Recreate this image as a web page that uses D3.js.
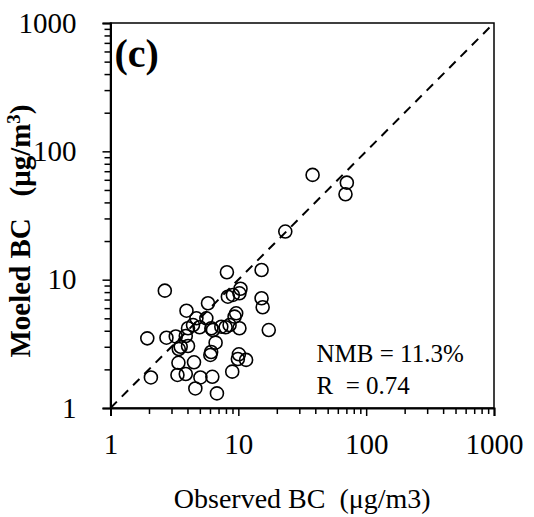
<!DOCTYPE html>
<html>
<head>
<meta charset="utf-8">
<script src="https://cdn.jsdelivr.net/npm/d3@7"></script>
<style>
    body { margin: 0; background: #fff; }
    svg text { font-family: "Liberation Serif", "Times New Roman", serif; fill: #000; }
</style>
</head>
<body>
<div id="chart"></div>
<script>
// observed vs modeled BC (ug/m3)
const observedBC = [2.66, 8.14, 15.2, 8.28, 9.06, 10.2, 10.4, 15.2, 15.5, 17.3,
    5.79, 3.93, 4.70, 5.62, 9.34, 9.62, 4.04, 4.98, 6.15, 7.36,
    8.54, 10.2, 7.95, 6.33, 4.42, 3.24, 2.74, 1.94, 3.88, 3.54,
    4.04, 3.42, 6.64, 6.04, 6.13, 10.1, 9.92, 11.5, 3.40, 4.50,
    3.34, 3.88, 5.05, 6.26, 8.96, 2.07, 4.61, 6.80, 38.1, 70.6,
    68.9, 23.3];
const modeledBC = [8.21, 11.42, 11.9, 7.37, 7.60, 7.83, 8.5, 7.16, 6.10, 4.05,
    6.55, 5.73, 5.00, 5.00, 5.15, 5.47, 4.18, 4.26, 4.18, 4.30,
    4.43, 4.18, 4.26, 4.05, 4.43, 3.61, 3.53, 3.49, 3.64, 3.00,
    3.04, 2.88, 3.23, 2.59, 2.73, 2.62, 2.41, 2.37, 2.25, 2.27,
    1.81, 1.84, 1.73, 1.75, 1.92, 1.73, 1.42, 1.30, 65.5, 57.0,
    46.3, 23.7];
const majorTicks = [1, 10, 100, 1000];
const statLines = ['NMB = 11.3%', 'R  = 0.74'];

const W = 534, H = 517;
const margin = { top: 23, right: 40, bottom: 109, left: 110.5 };
const width = W - margin.left - margin.right;
const height = H - margin.top - margin.bottom;

const svg = d3.select('#chart').append('svg')
    .attr('width', W)
    .attr('height', H);

const g = svg.append('g')
    .attr('transform', `translate(${margin.left}, ${margin.top})`);

const xScale = d3.scaleLog().domain([1, 1000]).range([0, width]);
const yScale = d3.scaleLog().domain([1, 1000]).range([height, 0]);

// minor ticks 2..9 in every decade
const minorTicks = [];
[1, 10, 100].forEach(d => {
    for (let k = 2; k <= 9; k++) minorTicks.push(d * k);
});

// frame
g.append('rect')
    .attr('width', width)
    .attr('height', height)
    .attr('fill', 'none')
    .attr('stroke', '#000')
    .attr('stroke-width', 1.5);

// minor ticks (no labels)
g.append('g')
    .attr('transform', `translate(0, ${height})`)
    .call(d3.axisBottom(xScale).tickValues(minorTicks).tickSize(6).tickFormat(''))
    .call(a => a.select('.domain').remove());
g.append('g')
    .call(d3.axisLeft(yScale).tickValues(minorTicks).tickSize(6).tickFormat(''))
    .call(a => a.select('.domain').remove());

// major ticks + labels
const xAxis = g.append('g')
    .attr('transform', `translate(0, ${height})`)
    .call(d3.axisBottom(xScale).tickValues(majorTicks).tickSize(8).tickPadding(17)
        .tickFormat(d3.format('d')));
const yAxis = g.append('g')
    .call(d3.axisLeft(yScale).tickValues(majorTicks).tickSize(8).tickPadding(26)
        .tickFormat(d3.format('d')));

[xAxis, yAxis].forEach(a => {
    a.select('.domain').attr('stroke-width', 2);
    a.selectAll('text').style('font-size', '29px');
});
g.selectAll('.tick line').attr('stroke-width', 1.5);

// 1:1 line
g.append('path')
    .datum([1, 1000])
    .attr('fill', 'none')
    .attr('stroke', '#000')
    .attr('stroke-width', 2)
    .attr('stroke-dasharray', '9,7')
    .attr('d', d3.line().x(d => xScale(d)).y(d => yScale(d)));

// points
g.selectAll('.dot')
    .data(observedBC.map((o, i) => ({ obs: o, mod: modeledBC[i] })))
    .enter().append('circle')
    .attr('class', 'dot')
    .attr('cx', d => xScale(d.obs))
    .attr('cy', d => yScale(d.mod))
    .attr('r', 6.5)
    .attr('fill', 'none')
    .attr('stroke', '#000')
    .attr('stroke-width', 1.6);

// panel letter
g.append('text')
    .attr('x', 4)
    .attr('y', 44)
    .style('font-size', '40px')
    .style('font-weight', 'bold')
    .text('(c)');

// stats
g.selectAll('.stat')
    .data(statLines)
    .enter().append('text')
    .attr('class', 'stat')
    .attr('x', 206)
    .attr('y', (d, i) => 339 + i * 32)
    .attr('xml:space', 'preserve')
    .style('white-space', 'pre')
    .style('font-size', '25px')
    .text(d => d);

// axis titles
svg.append('text')
    .attr('x', margin.left + width / 2)
    .attr('y', 508)
    .attr('text-anchor', 'middle')
    .attr('xml:space', 'preserve')
    .style('white-space', 'pre')
    .style('font-size', '28px')
    .text('Observed BC  (μg/m3)');

const yTitle = svg.append('text')
    .attr('transform', 'translate(30, 231) rotate(-90)')
    .attr('text-anchor', 'middle')
    .attr('xml:space', 'preserve')
    .style('white-space', 'pre')
    .style('font-size', '29px')
    .style('font-weight', 'bold');
yTitle.append('tspan').text('Moeled BC   (μg/m');
yTitle.append('tspan').attr('dy', -10).style('font-size', '19px').text('3');
yTitle.append('tspan').attr('dy', 10).text(')');
</script>
</body>
</html>
